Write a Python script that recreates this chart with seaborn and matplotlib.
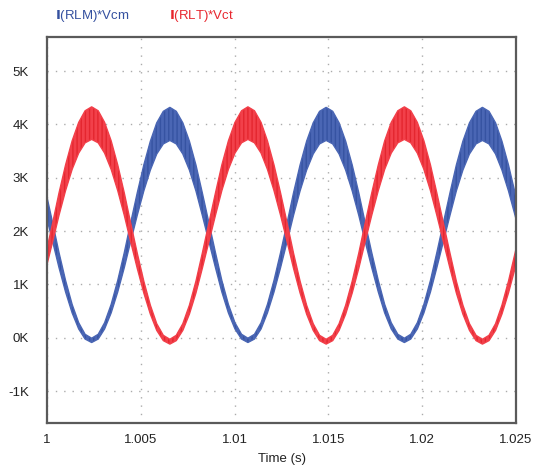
import matplotlib
matplotlib.use("Agg")
import matplotlib.pyplot as plt
import seaborn as sns
import pandas as pd
from matplotlib.ticker import FixedLocator

# ---- data ----
time_s = [0.99995, 1.00030, 1.00064, 1.00099, 1.00134, 1.00169, 1.00203,
          1.00238, 1.00273, 1.00307, 1.00342, 1.00377, 1.00412, 1.00446, 1.00481,
          1.00516, 1.00551, 1.00585, 1.00620, 1.00655, 1.00689, 1.00724, 1.00759,
          1.00794, 1.00828, 1.00863, 1.00898, 1.00932, 1.00967, 1.01002, 1.01037,
          1.01071, 1.01106, 1.01141, 1.01175, 1.01210, 1.01245, 1.01280, 1.01314,
          1.01349, 1.01384, 1.01419, 1.01453, 1.01488, 1.01523, 1.01557, 1.01592,
          1.01627, 1.01662, 1.01696, 1.01731, 1.01766, 1.01800, 1.01835, 1.01870,
          1.01905, 1.01939, 1.01974, 1.02009, 1.02044, 1.02078, 1.02113, 1.02148,
          1.02182, 1.02217, 1.02252, 1.02287, 1.02321, 1.02356, 1.02391, 1.02425,
          1.02460, 1.02495, 1.02530]

red_upper = [1586, 2150, 2714, 3240, 3692, 4038, 4256,
             4330, 4256, 4038, 3692, 3240, 2714, 2150, 1586, 1060, 608, 262, 44,
             -30, 44, 262, 608, 1060, 1586, 2150, 2714, 3240, 3692, 4038, 4256,
             4330, 4256, 4038, 3692, 3240, 2714, 2150, 1586, 1060, 608, 262, 44,
             -30, 44, 262, 608, 1060, 1586, 2150, 2714, 3240, 3692, 4038, 4256,
             4330, 4256, 4038, 3692, 3240, 2714, 2150, 1586, 1060, 608, 262, 44,
             -30, 44, 262, 608, 1060, 1586, 2150]
red_lower = [1303, 1800, 2297, 2760, 3158, 3463, 3655,
             3720, 3655, 3463, 3158, 2760, 2297, 1800, 1303, 840, 442, 137, -55,
             -120, -55, 137, 442, 840, 1303, 1800, 2297, 2760, 3158, 3463, 3655,
             3720, 3655, 3463, 3158, 2760, 2297, 1800, 1303, 840, 442, 137, -55,
             -120, -55, 137, 442, 840, 1303, 1800, 2297, 2760, 3158, 3463, 3655,
             3720, 3655, 3463, 3158, 2760, 2297, 1800, 1303, 840, 442, 137, -55,
             -120, -55, 137, 442, 840, 1303, 1800]
blue_upper = [2715, 2155, 1595, 1073, 624, 280, 64,
              -10, 64, 280, 624, 1073, 1595, 2155, 2715, 3238, 3686, 4030, 4246,
              4320, 4246, 4030, 3686, 3238, 2715, 2155, 1595, 1073, 624, 280, 64,
              -10, 64, 280, 624, 1073, 1595, 2155, 2715, 3238, 3686, 4030, 4246,
              4320, 4246, 4030, 3686, 3238, 2715, 2155, 1595, 1073, 624, 280, 64,
              -10, 64, 280, 624, 1073, 1595, 2155, 2715, 3238, 3686, 4030, 4246,
              4320, 4246, 4030, 3686, 3238, 2715, 2155]
blue_lower = [2295, 1805, 1315, 858, 465, 164, -25,
              -90, -25, 164, 465, 858, 1315, 1805, 2295, 2753, 3145, 3446, 3635,
              3700, 3635, 3446, 3145, 2753, 2295, 1805, 1315, 858, 465, 164, -25,
              -90, -25, 164, 465, 858, 1315, 1805, 2295, 2753, 3145, 3446, 3635,
              3700, 3635, 3446, 3145, 2753, 2295, 1805, 1315, 858, 465, 164, -25,
              -90, -25, 164, 465, 858, 1315, 1805, 2295, 2753, 3145, 3446, 3635,
              3700, 3635, 3446, 3145, 2753, 2295, 1805]

x_ticks = [1.0, 1.005, 1.01, 1.015, 1.02, 1.025]
x_tick_labels = ["1", "1.005", "1.01", "1.015", "1.02", "1.025"]
y_ticks = [-1000, 0, 1000, 2000, 3000, 4000, 5000]
y_tick_labels = ["-1K", "0K", "1K", "2K", "3K", "4K", "5K"]
series_names = ["I(RLM)*Vcm", "I(RLT)*Vct"]

# ---- style ----
sns.set_theme(style="white")
plt.rcParams["font.family"] = ["Liberation Sans", "DejaVu Sans"]
plt.rcParams["hatch.linewidth"] = 1.0

BLUE = "#4a66b4"
BLUE_D = "#3653a2"
RED = "#f2404a"
RED_D = "#e4262f"
FS = 9.5

fig = plt.figure(figsize=(5.46, 4.65), dpi=100)
ax = fig.add_axes([47 / 546, 1 - 423 / 465, 469 / 546, 386 / 465])

df = pd.DataFrame({"t": time_s, "ru": red_upper, "rl": red_lower,
                   "bu": blue_upper, "bl": blue_lower})

for up, lo, fc, dc, z in [("bu", "bl", BLUE, BLUE_D, 3), ("ru", "rl", RED, RED_D, 4)]:
    ax.fill_between(df["t"], df[lo], df[up], facecolor=fc, edgecolor=dc,
                    hatch="||||", linewidth=0, zorder=z)
    sns.lineplot(data=df, x="t", y=up, color=fc, lw=1.0, ax=ax, zorder=z)
    sns.lineplot(data=df, x="t", y=lo, color=fc, lw=1.0, ax=ax, zorder=z)

ax.set_xlim(1.0, 1.025)
ax.set_ylim(-1600, 5640)
ax.xaxis.set_major_locator(FixedLocator(x_ticks))
ax.set_xticklabels(x_tick_labels)
ax.yaxis.set_major_locator(FixedLocator(y_ticks))
ax.set_yticklabels(y_tick_labels)
ax.tick_params(axis="both", length=0, labelsize=FS, colors="#222222")
ax.tick_params(axis="y", pad=13)
ax.tick_params(axis="x", pad=8)
ax.set_xlabel("Time (s)", fontsize=FS, color="#222222", labelpad=5)
ax.set_ylabel("")

ax.grid(True, linestyle=(0, (1, 5)), color="#ababab", linewidth=1.0)
ax.set_axisbelow(True)
for s in ax.spines.values():
    s.set_color("#5a5a5a")
    s.set_linewidth(1.6)
    s.set_zorder(10)

fig.text(55 / 546, 1 - 16 / 465, r"$\mathbf{I}$" + series_names[0][1:], color="#34509f",
         fontsize=FS, va="center", ha="left")
fig.text(169 / 546, 1 - 16 / 465, r"$\mathbf{I}$" + series_names[1][1:], color="#e8262e",
         fontsize=FS, va="center", ha="left")

fig.savefig("out.png", dpi=100, facecolor="white")
